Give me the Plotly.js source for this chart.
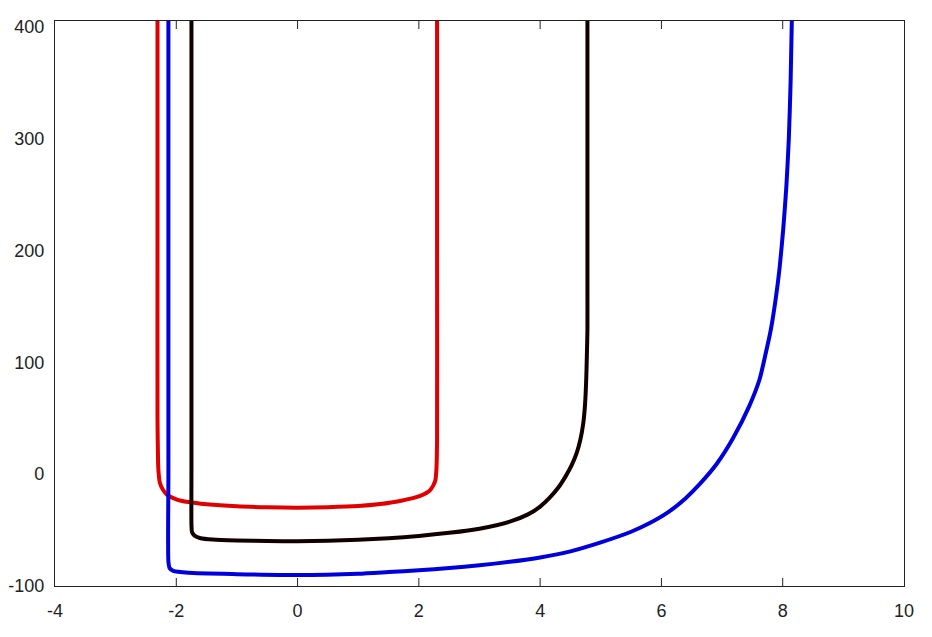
<!DOCTYPE html>
<html>
<head>
<meta charset="utf-8">
<script src="https://cdn.plot.ly/plotly-3.0.1.min.js"></script>
<style>html,body{margin:0;padding:0;background:#fff;}#chart{width:932px;height:637px;}</style>
</head>
<body>
<div id="chart"></div>
<script>
// Red curve
const redX = [-2.31, -2.31, -2.31, -2.30, -2.29, -2.27, -2.22, -2.15, -2.0, -1.8, -1.5, -1.0, -0.5, 0, 0.5, 1.0, 1.36, 1.69, 2.02, 2.19, 2.27, 2.29, 2.30, 2.30, 2.30];
const redY = [405, 200, 50, 10, 0, -8, -14, -18.5, -22.5, -25, -27, -28.8, -29.6, -30, -29.6, -28.6, -26.8, -24, -19.5, -14, -6, 5, 30, 200, 405];
// Black curve
const blackX = [-1.75, -1.75, -1.75, -1.74, -1.70, -1.6, -1.4, -1.0, -0.5, 0, 0.5, 1.0, 1.5, 2.0, 2.5, 3.0, 3.5, 3.8, 4.0, 4.15, 4.3, 4.42, 4.52, 4.60, 4.66, 4.71, 4.74, 4.76, 4.77, 4.78, 4.78, 4.78];
const blackY = [405, 0, -45, -52, -55, -57.3, -58.5, -59.3, -59.8, -60, -59.5, -58.7, -57.3, -55.3, -52.5, -48.8, -42.5, -36, -29, -21.5, -12, -2, 8, 18.5, 30, 45, 62, 85, 105, 130, 160, 405];
// Blue curve
const blueX = [-2.13, -2.13, -2.13, -2.11, -2.05, -1.8, -1.0, 0, 1.0, 1.5, 2.0, 2.5, 3.0, 3.5, 4.0, 4.5, 5.0, 5.5, 5.8, 6.1, 6.4, 6.63, 6.91, 7.18, 7.45, 7.62, 7.72, 7.80, 7.88, 7.95, 8.01, 8.06, 8.10, 8.13, 8.15];
const blueY = [405, 0, -78, -84, -86.5, -88.2, -89.4, -90.2, -89, -87.5, -86, -84, -81.5, -78.4, -74.5, -69, -61, -51.5, -44, -34.5, -21.5, -9, 9, 32, 61, 85, 108, 128, 155, 185, 220, 257, 299, 350, 405];

const xTicks = [-4, -2, 0, 2, 4, 6, 8, 10];
const yTicks = [-100, 0, 100, 200, 300, 400];

const lineStyle = (c) => ({color: c, width: 4, shape: 'spline', smoothing: 0.6});
const traces = [
  {x: redX, y: redY, mode: 'lines', line: lineStyle('#e00000'), hoverinfo: 'skip'},
  {x: blackX, y: blackY, mode: 'lines', line: lineStyle('#120000'), hoverinfo: 'skip'},
  {x: blueX, y: blueY, mode: 'lines', line: lineStyle('#0000dd'), hoverinfo: 'skip'}
];

// inside tick marks on bottom and top edges, placed on the x axis scale
const tickShapes = [];
xTicks.slice(1, -1).forEach(v => {
  tickShapes.push({type: 'line', xref: 'x', yref: 'paper', ysizemode: 'pixel', yanchor: 0,
    x0: v, x1: v, y0: 0, y1: 8, line: {color: '#222', width: 1}, layer: 'above'});
  tickShapes.push({type: 'line', xref: 'x', yref: 'paper', ysizemode: 'pixel', yanchor: 1,
    x0: v, x1: v, y0: 0, y1: -8, line: {color: '#222', width: 1}, layer: 'above'});
});

const layout = {
  width: 932, height: 637,
  margin: {l: 55, r: 28, t: 21, b: 51},
  paper_bgcolor: '#fff', plot_bgcolor: '#fff',
  showlegend: false,
  font: {family: 'Liberation Sans, Arial, sans-serif', size: 18, color: '#222'},
  shapes: tickShapes,
  xaxis: {
    range: [-4, 10], tickmode: 'array', tickvals: xTicks, ticktext: xTicks.map(String),
    showgrid: false, zeroline: false,
    showline: true, linecolor: '#222', linewidth: 1.2, mirror: true,
    ticks: '', ticklabelstandoff: 8
  },
  yaxis: {
    range: [-100, 405], tickmode: 'array', tickvals: yTicks, ticktext: yTicks.map(String),
    showgrid: false, zeroline: false,
    showline: true, linecolor: '#222', linewidth: 1.2, mirror: true,
    ticks: '', ticklabelstandoff: 6
  }
};

Plotly.newPlot('chart', traces, layout, {displayModeBar: false});
</script>
</body>
</html>
